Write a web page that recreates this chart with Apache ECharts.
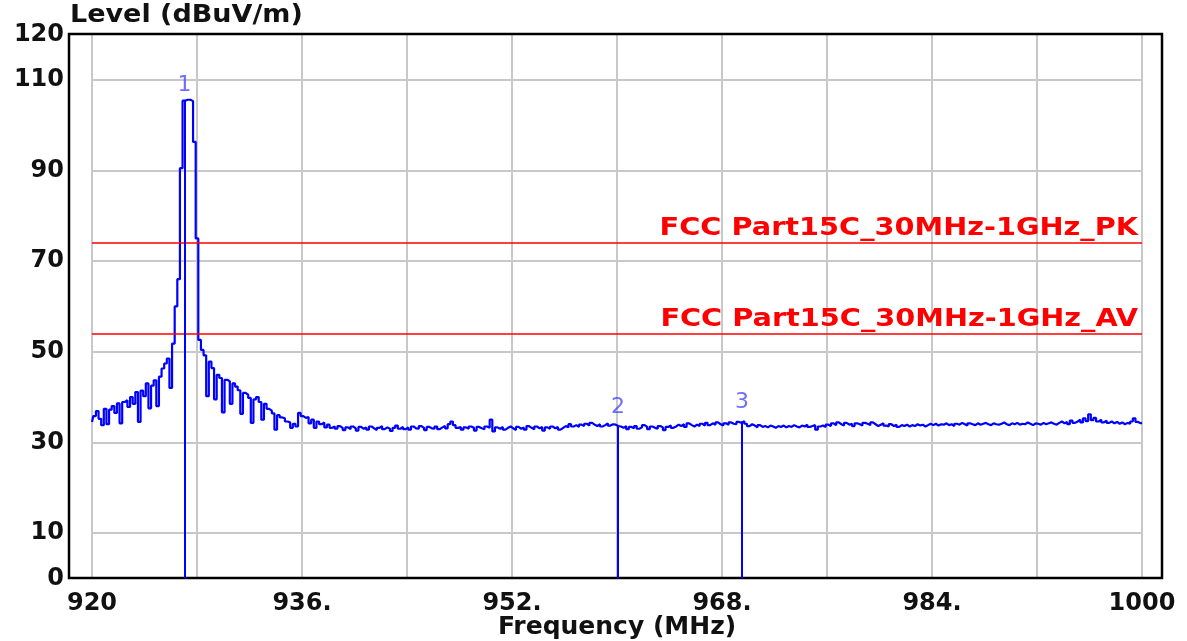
<!DOCTYPE html>
<html>
<head>
<meta charset="utf-8">
<script src="https://cdn.jsdelivr.net/npm/echarts@6/dist/echarts.min.js"></script>
<style>
html,body{margin:0;padding:0;background:#fff;}
#chart{width:1187px;height:641px;}
</style>
</head>
<body>
<div id="chart"></div>
<script>
// ---- data ----
var traceStart = 920;      // MHz, first sample
var traceStep = 0.2;       // MHz between samples
var traceLevels = [
  34.5, 35.8, 36.9, 35.2, 33.8,
  37.4, 34.0, 37.2, 38.0, 36.5,
  38.6, 34.2, 38.9, 39.3, 37.8,
  40.0, 38.5, 41.1, 34.5, 41.4,
  40.2, 43.0, 37.5, 42.5, 43.7,
  38.0, 44.5, 46.3, 47.4, 48.5,
  42.0, 51.8, 60.0, 66.0, 90.5,
  105.4, 105.6, 105.6, 105.3, 96.3,
  75.0, 52.6, 50.4, 49.2, 40.2,
  47.8, 46.4, 39.5, 44.9, 44.2,
  36.6, 43.8, 43.5, 38.5, 43.0,
  42.3, 41.5, 36.3, 40.9, 40.5,
  39.8, 34.3, 39.5, 40.0, 38.9,
  35.0, 38.5, 37.4, 37.0, 36.4,
  32.8, 36.0, 35.5, 35.3, 34.6,
  34.4, 33.2, 34.1, 33.5, 36.5,
  35.8, 35.4, 35.6, 34.2, 35.0,
  33.2, 34.6, 34.0, 34.4, 33.3,
  33.9, 33.2, 33.5, 33.0, 33.6,
  33.2, 32.7, 33.3, 32.9, 33.5,
  33.1, 32.6, 33.4, 33.0, 33.3,
  32.8, 33.5, 33.1, 32.7, 33.2,
  33.6, 32.9, 33.3, 33.0, 32.5,
  33.2, 33.7, 33.0, 33.4, 32.9,
  33.3, 32.8, 33.5, 33.1, 33.0,
  33.6, 33.2, 32.7, 33.4, 33.1,
  33.0, 33.5, 32.9, 33.3, 33.6,
  33.1, 34.0, 34.6, 33.8, 33.2,
  33.4, 32.8, 33.3, 33.0, 33.5,
  33.2, 32.6, 33.4, 33.1, 32.9,
  33.5, 33.2, 35.0, 32.4, 33.3,
  33.0, 33.4, 32.8, 33.2, 33.5,
  33.1, 32.7, 33.4, 33.0, 33.3,
  32.8, 33.6, 33.2, 32.9, 33.5,
  33.1, 33.4, 32.6, 33.3, 33.0,
  33.5, 33.1, 33.4, 32.8, 33.2,
  33.6, 33.3, 34.0, 33.5, 33.8,
  33.4, 33.9, 33.6, 34.1, 33.7,
  34.3, 33.9, 33.6, 34.0, 33.5,
  33.8, 34.2, 33.7, 34.0, 33.9,
  33.6, 33.5, 33.2, 33.6, 32.9,
  33.4, 33.1, 33.6, 33.0, 33.3,
  33.8, 33.4, 32.9, 33.5, 33.2,
  33.0, 33.6, 33.3, 32.7, 33.4,
  33.7, 33.2, 33.5, 33.9, 33.6,
  34.0, 33.4, 34.2, 33.8, 33.5,
  33.9, 33.6, 34.1, 33.7, 34.3,
  33.8, 34.2, 33.9, 34.4, 34.0,
  33.7, 34.2, 33.9, 34.4, 34.1,
  34.0, 34.5, 34.3, 34.7, 34.1,
  33.6, 34.0, 33.7, 33.3, 33.8,
  33.4, 33.6, 33.3, 33.7, 33.5,
  33.2, 33.6, 33.4, 33.7, 33.3,
  33.6, 33.4, 33.8, 33.5, 33.3,
  33.7, 33.5, 33.9, 33.4, 33.6,
  33.8, 32.8, 33.5, 33.7, 33.4,
  33.9, 33.6, 34.2, 33.8, 34.4,
  34.0, 33.7, 34.3, 33.9, 34.1,
  33.6, 34.2, 34.0, 33.7, 34.3,
  34.1, 33.8, 34.4, 34.0, 33.6,
  33.9, 34.2, 33.7, 33.5, 34.0,
  33.6, 33.9, 33.4, 33.8, 33.6,
  33.9, 33.5, 33.8, 33.6, 34.0,
  33.7, 33.9, 33.5, 33.8, 34.1,
  33.8, 34.1, 33.7, 34.0, 33.9,
  34.2, 33.8, 34.0, 33.6, 34.1,
  33.9, 34.3, 34.0, 33.7, 34.2,
  34.0, 33.8, 34.2, 33.9, 34.1,
  34.3, 34.0, 33.8, 34.2, 34.0,
  33.9, 34.1, 34.4, 34.0, 33.8,
  34.2, 34.0, 34.3, 33.9, 34.1,
  34.0, 34.4, 34.1, 33.8, 34.2,
  34.1, 33.9, 34.3, 34.0, 34.2,
  34.4, 34.1, 33.9, 34.3, 34.6,
  34.2, 34.5, 34.0, 34.8, 34.3,
  34.6, 35.0, 34.4, 35.3, 34.7,
  36.2, 34.9, 35.4, 34.6, 35.0,
  34.4, 34.8, 34.3, 34.6, 34.2,
  34.5, 34.1, 34.4, 34.0, 34.3,
  34.1, 34.6, 35.3, 34.5, 34.2,
  34.3
];
var limitNames = ['FCC Part15C_30MHz-1GHz_PK', 'FCC Part15C_30MHz-1GHz_AV'];
var limitLevels = [74, 54];
var markerNames = ['1', '2', '3'];
var markerFreqs = [927.05, 960.08, 969.52];
var markerLevels = [105.5, 33.6, 34.6];
var xTickValues = [920, 936, 952, 968, 984, 1000];
var xTickLabels = ['920', '936.', '952.', '968.', '984.', '1000'];
var yTickLabels = [0, 10, 30, 50, 70, 90, 110, 120];

// ---- build ----
var traceData = traceLevels.map(function (v, i) {
  return [+(traceStart + i * traceStep).toFixed(2), v];
});
var markerData = markerNames.map(function (n, i) {
  return { name: n, value: [markerFreqs[i], markerLevels[i]],
           label: { distance: i === 0 ? 4 : 8 } };
});
var markerLines = markerNames.map(function (n, i) {
  return [{ coord: [markerFreqs[i], 0] }, { coord: [markerFreqs[i], markerLevels[i]] }];
});
var limitLines = limitNames.map(function (n, i) {
  return { name: n, yAxis: limitLevels[i] };
});

var FONT = 'DejaVu Sans';
var chart = echarts.init(document.getElementById('chart'), null, { renderer: 'canvas' });
chart.setOption({
  animation: false,
  backgroundColor: '#fff',
  grid: [
    { left: 92, right: 45, top: 34.5, bottom: 62.7, show: false, outerBoundsMode: 'none', containLabel: false },
    { left: 69, right: 25, top: 34, bottom: 63, show: true, outerBoundsMode: 'none', containLabel: false,
      borderColor: '#000', borderWidth: 2.5, backgroundColor: 'rgba(0,0,0,0)', z: 5 }
  ],
  xAxis: [
    { type: 'value', gridIndex: 0, min: 920, max: 1000, interval: 8,
      axisLine: { show: false }, axisTick: { show: false },
      splitLine: { show: true, lineStyle: { color: '#c8c8c8', width: 2 } },
      axisLabel: { margin: 13, color: '#111', fontFamily: FONT, fontWeight: 'bold', fontSize: 24,
        formatter: function (v) { var k = xTickValues.indexOf(v); return k >= 0 ? xTickLabels[k] : ''; } },
      name: 'Frequency (MHz)', nameLocation: 'middle', nameGap: 37, nameMoveOverlap: false,
      nameTextStyle: { color: '#111', fontFamily: FONT, fontWeight: 'bold', fontSize: 25 } },
    { type: 'value', gridIndex: 1, min: 0, max: 1, show: false }
  ],
  yAxis: [
    { type: 'value', gridIndex: 0, min: 0, max: 120, interval: 10,
      axisLine: { show: false }, axisTick: { show: false },
      splitLine: { show: true, lineStyle: { color: ['rgba(0,0,0,0)', '#c8c8c8'], width: 2 } },
      axisLabel: { margin: 28, color: '#111', fontFamily: FONT, fontWeight: 'bold', fontSize: 24,
        formatter: function (v) { return yTickLabels.indexOf(v) >= 0 ? String(v) : ''; } } },
    { type: 'value', gridIndex: 1, min: 0, max: 1, show: false }
  ],
  series: [
    { type: 'line', name: 'limits', xAxisIndex: 0, yAxisIndex: 0, data: [],
      markLine: { silent: true, symbol: 'none', data: limitLines,
        lineStyle: { color: '#ff0000', width: 1.5, type: 'solid' },
        label: { show: false } } },
    { type: 'line', name: 'trace', xAxisIndex: 0, yAxisIndex: 0, data: traceData,
      showSymbol: false, step: 'middle',
      lineStyle: { color: '#0000ff', width: 2.2 } },
    { type: 'scatter', name: 'markers', xAxisIndex: 0, yAxisIndex: 0, data: markerData,
      symbolSize: 0, itemStyle: { color: '#0000ff' },
      label: { show: true, position: 'top', formatter: '{b}', color: '#4a4aff',
        fontFamily: FONT, fontSize: 22 },
      markLine: { silent: true, symbol: 'none', data: markerLines, label: { show: false },
        lineStyle: { color: '#0000ff', width: 2, type: 'solid' } } }
  ]
});

// texts: title and limit labels (anchored through the chart's own scales)
var graphics = [
  { type: 'text', x: 70, y: 3, scaleX: 1.08, z: 10,
    style: { text: 'Level (dBuV/m)', fill: '#111', font: 'bold 25px "DejaVu Sans"' } }
];
limitNames.forEach(function (n, i) {
  var p = chart.convertToPixel({ gridIndex: 0 }, [1000, limitLevels[i]]);
  graphics.push({ type: 'text', x: p[0] - 4, y: p[1] - 2, scaleX: 1.15, z: 10,
    style: { text: n, fill: '#ff0000', font: 'bold 25px "DejaVu Sans"',
             align: 'right', verticalAlign: 'bottom' } });
});
chart.setOption({ graphic: graphics });
</script>
</body>
</html>
